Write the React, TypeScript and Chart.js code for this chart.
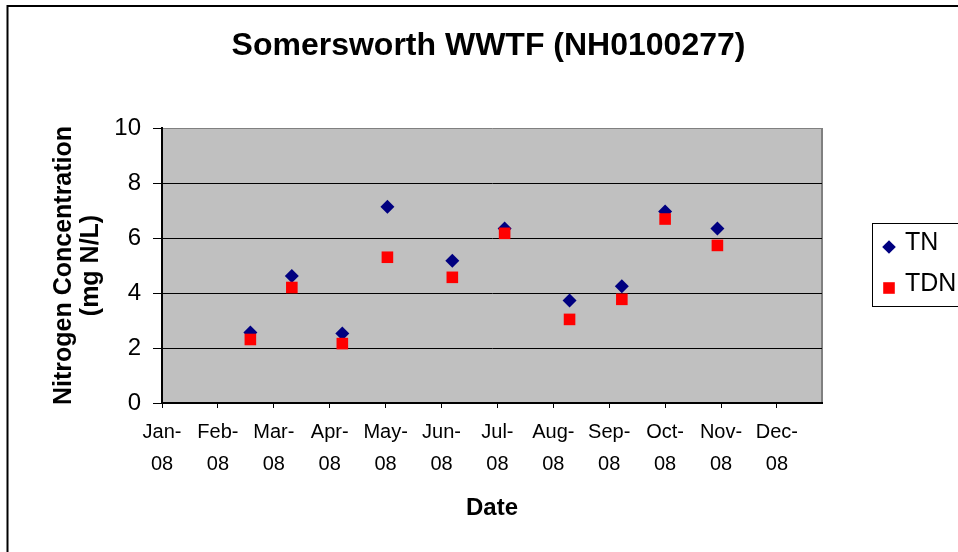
import React, { useEffect, useRef } from "react";
import { Chart, registerables } from "chart.js";

Chart.register(...registerables);

const chartTitle = "Somersworth WWTF (NH0100277)";
const yAxisTitle = ["Nitrogen Concentration", "(mg N/L)"];
const xAxisTitle = "Date";

const sampleDates = [
  "2008-02-19",
  "2008-03-13",
  "2008-04-10",
  "2008-05-05",
  "2008-06-10",
  "2008-07-09",
  "2008-08-14",
  "2008-09-12",
  "2008-10-06",
  "2008-11-04",
];
const tnValues = [2.56, 4.62, 2.53, 7.14, 5.17, 6.35, 3.73, 4.25, 6.96, 6.35];
const tdnValues = [2.31, 4.2, 2.16, 5.3, 4.57, 6.17, 3.04, 3.77, 6.69, 5.73];

const monthTickLabels = [
  "Jan-08",
  "Feb-08",
  "Mar-08",
  "Apr-08",
  "May-08",
  "Jun-08",
  "Jul-08",
  "Aug-08",
  "Sep-08",
  "Oct-08",
  "Nov-08",
  "Dec-08",
];
const seriesNames = ["TN", "TDN"];
const yTicks = { min: 0, max: 10, step: 2 };

const START = Date.UTC(2008, 0, 1);
const dayOf = (iso: string) => {
  const [y, m, d] = iso.split("-").map(Number);
  return (Date.UTC(y, m - 1, d) - START) / 86400000;
};
const X_MAX = dayOf("2009-01-01");
const TICK_STEP = 31;

const FONT = "'Liberation Sans', Arial, sans-serif";

const bgPlugin = {
  id: "plotBg",
  beforeDraw(chart: any) {
    const { ctx, chartArea: a } = chart;
    ctx.save();
    ctx.fillStyle = "#ffffff";
    ctx.fillRect(0, 0, chart.width, chart.height);
    ctx.fillStyle = "#c0c0c0";
    ctx.fillRect(a.left, a.top, a.right - a.left, a.bottom - a.top);
    ctx.strokeStyle = "#808080";
    ctx.lineWidth = 2;
    ctx.beginPath();
    ctx.moveTo(a.right, a.top);
    ctx.lineTo(a.right, a.bottom);
    ctx.stroke();
    ctx.strokeStyle = "#000000";
    ctx.lineWidth = 2;
    ctx.strokeRect(7.5, 6, chart.width + 40, chart.height + 40);
    ctx.restore();
  },
};

const legendPlugin = {
  id: "boxLegend",
  afterDraw(chart: any) {
    const { ctx, chartArea: a } = chart;
    const left = a.right + 50;
    const cy = (a.top + a.bottom) / 2;
    const top = Math.round(cy - 42.5);
    ctx.save();
    ctx.fillStyle = "#ffffff";
    ctx.fillRect(left, top, 200, 83);
    ctx.strokeStyle = "#000000";
    ctx.lineWidth = 1;
    ctx.strokeRect(left + 0.5, top + 0.5, 200, 83);
    ctx.font = `25px ${FONT}`;
    ctx.textBaseline = "middle";
    ctx.textAlign = "left";
    chart.data.datasets.forEach((ds: any, i: number) => {
      const y = top + 24 + i * 41;
      const mx = left + 17;
      ctx.fillStyle = ds.backgroundColor;
      ctx.beginPath();
      if (ds.pointStyle === "rectRot") {
        const r = 6.8;
        ctx.moveTo(mx - r, y);
        ctx.lineTo(mx, y - r);
        ctx.lineTo(mx + r, y);
        ctx.lineTo(mx, y + r);
        ctx.closePath();
      } else {
        const s = 5.8;
        ctx.rect(mx - s, y - s, 2 * s, 2 * s);
      }
      ctx.fill();
      ctx.fillStyle = "#000000";
      ctx.fillText(ds.label, left + 33, y - 3.5);
    });
    ctx.restore();
  },
};

export default function App() {
  const ref = useRef<HTMLCanvasElement | null>(null);

  useEffect(() => {
    if (!ref.current) return;
    const chart = new Chart(ref.current, {
      type: "scatter",
      data: {
        datasets: [
          {
            label: seriesNames[0],
            data: sampleDates.map((d, i) => ({ x: dayOf(d), y: tnValues[i] })),
            backgroundColor: "#000080",
            borderColor: "#000080",
            borderWidth: 0,
            pointStyle: "rectRot",
            pointRadius: 7,
            pointHoverRadius: 7,
            order: 2,
          },
          {
            label: seriesNames[1],
            data: sampleDates.map((d, i) => ({ x: dayOf(d), y: tdnValues[i] })),
            backgroundColor: "#ff0000",
            borderColor: "#ff0000",
            borderWidth: 0,
            pointStyle: "rect",
            pointRadius: 8.2,
            pointHoverRadius: 8.2,
            order: 1,
          },
        ],
      },
      options: {
        responsive: false,
        animation: false,
        devicePixelRatio: 1,
        layout: { padding: { left: 19, right: 0, top: 0, bottom: 0 } },
        plugins: {
          legend: { display: false },
          tooltip: { enabled: false },
          title: {
            display: true,
            text: chartTitle,
            color: "#000000",
            font: { family: FONT, size: 32, weight: "bold", lineHeight: 1.2 },
            padding: { top: 27, bottom: 62.6 },
          },
        },
        scales: {
          x: {
            type: "linear",
            position: "bottom",
            min: 0,
            max: X_MAX,
            afterFit: (s: any) => {
              s.height = 149;
            },
            grid: {
              display: true,
              drawOnChartArea: false,
              drawTicks: true,
              tickLength: 5,
              color: "#000000",
              tickColor: "#000000",
            },
            border: { display: true, color: "#000000", width: 2 },
            ticks: {
              stepSize: TICK_STEP,
              includeBounds: false,
              autoSkip: false,
              maxRotation: 0,
              minRotation: 0,
              padding: 8,
              color: "#000000",
              font: { family: FONT, size: 20, lineHeight: 1.6 },
              callback: (v: any) => {
                const s = monthTickLabels[Math.round(Number(v) / TICK_STEP)];
                return s ? [s.slice(0, 4), s.slice(4)] : "";
              },
            },
            title: {
              display: true,
              text: xAxisTitle,
              color: "#000000",
              font: { family: FONT, size: 24, weight: "bold", lineHeight: 1.2 },
              padding: { top: 0, bottom: 29.3 },
            },
          },
          y: {
            type: "linear",
            position: "left",
            min: yTicks.min,
            max: yTicks.max,
            afterFit: (s: any) => {
              s.width = 143;
            },
            grid: {
              color: (c: any) => (c.tick && c.tick.value === yTicks.max ? "#808080" : "#000000"),
              tickColor: "#000000",
              tickLength: 9,
              lineWidth: 1,
            },
            border: { display: true, color: "#000000", width: 2 },
            ticks: {
              stepSize: yTicks.step,
              padding: 12,
              color: "#000000",
              font: { family: FONT, size: 24 },
            },
            title: {
              display: true,
              text: yAxisTitle,
              color: "#000000",
              font: { family: FONT, size: 25, weight: "bold", lineHeight: 1.1 },
              padding: { top: 31, bottom: 0 },
            },
          },
          yRight: {
            type: "linear",
            position: "right",
            display: true,
            afterFit: (s: any) => {
              s.width = 136;
            },
            grid: { display: false },
            border: { display: false },
            ticks: { display: false },
          },
        },
      } as any,
      plugins: [bgPlugin, legendPlugin],
    });
    return () => chart.destroy();
  }, []);

  return (
    <div style={{ position: "absolute", left: 0, top: 0, width: 958, height: 552 }}>
      <canvas ref={ref} width={958} height={552} style={{ width: 958, height: 552, display: "block" }} />
    </div>
  );
}
